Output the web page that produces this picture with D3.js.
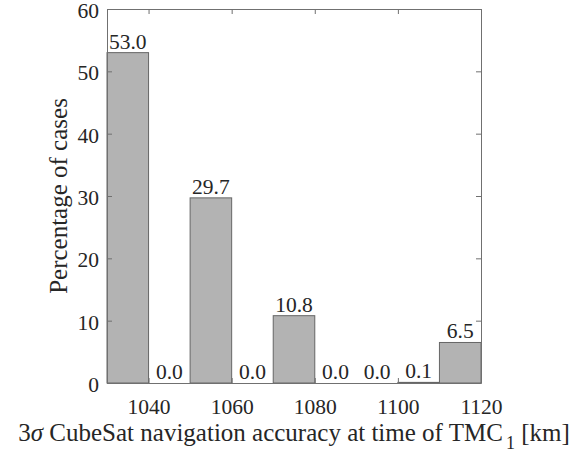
<!DOCTYPE html>
<html>
<head>
<meta charset="utf-8">
<script src="https://cdn.jsdelivr.net/npm/d3@7"></script>
</head>
<body style="margin:0;background:#fff">
<div id="root"></div>
<script>
// Histogram bins (left edges, km) and percentage of cases in each bin
const binStarts = [1030, 1040, 1050, 1060, 1070, 1080, 1090, 1100, 1110];
const binWidth = 10;
const percentages = [53.0, 0.0, 29.7, 0.0, 10.8, 0.0, 0.0, 0.1, 6.5];
const xTicks = [1040, 1060, 1080, 1100, 1120];
const yTicks = [0, 10, 20, 30, 40, 50, 60];

const FONT = "'Liberation Serif', 'Times New Roman', serif";
const W = 585, H = 455;
const svg = d3.select("#root").append("svg")
  .attr("width", W).attr("height", H)
  .style("display", "block")
  .attr("font-family", FONT);

const margin = { left: 107, top: 9, right: 104, bottom: 72 };
const iw = W - margin.left - margin.right;
const ih = H - margin.top - margin.bottom;

const x = d3.scaleLinear().domain([1030, 1120]).range([margin.left, margin.left + iw]);
const y = d3.scaleLinear().domain([0, 60]).range([margin.top + ih, margin.top]);

const axisColor = "#707070";
const textColor = "#262626";
const tickFont = 21.5;
const labelFont = 25;

const bins = binStarts.map((s, i) => ({ s, v: percentages[i] }));

// bars
svg.append("g").selectAll("rect")
  .data(bins)
  .join("rect")
  .attr("x", d => x(d.s))
  .attr("width", d => x(d.s + binWidth) - x(d.s))
  .attr("y", d => y(d.v))
  .attr("height", d => y(0) - y(d.v))
  .attr("fill", "#b3b3b3")
  .attr("stroke", "#666")
  .attr("stroke-width", 1);

// value labels above each bar
svg.append("g").selectAll("text")
  .data(bins)
  .join("text")
  .attr("x", d => x(d.s + binWidth / 2))
  .attr("y", d => y(d.v) - 4)
  .attr("text-anchor", "middle")
  .attr("font-family", FONT)
  .attr("font-size", tickFont)
  .attr("fill", textColor)
  .text(d => d.v.toFixed(1));

// axes with inward ticks, mirrored on top and right
function styleAxis(g) {
  g.attr("font-family", FONT).attr("font-size", tickFont);
  g.selectAll("path").attr("stroke", axisColor);
  g.selectAll("line").attr("stroke", axisColor);
  g.selectAll("text")
    .attr("font-family", FONT)
    .attr("font-size", tickFont)
    .attr("fill", textColor);
}

svg.append("g")
  .attr("transform", `translate(0,${y(0)})`)
  .call(d3.axisBottom(x).tickValues(xTicks).tickSize(-5).tickSizeOuter(0).tickPadding(16).tickFormat(d3.format("d")))
  .call(styleAxis);

svg.append("g")
  .attr("transform", `translate(0,${y(60)})`)
  .call(d3.axisTop(x).tickValues(xTicks).tickSize(-5).tickSizeOuter(0).tickFormat(""))
  .call(styleAxis);

svg.append("g")
  .attr("transform", `translate(${x(1030)},0)`)
  .call(d3.axisLeft(y).tickValues(yTicks).tickSize(-5).tickSizeOuter(0).tickPadding(8).tickFormat(d3.format("d")))
  .call(styleAxis)
  .call(g => g.selectAll("text").attr("dy", "0.4em"));

svg.append("g")
  .attr("transform", `translate(${x(1120)},0)`)
  .call(d3.axisRight(y).tickValues(yTicks).tickSize(-5).tickSizeOuter(0).tickFormat(""))
  .call(styleAxis);

// axis titles
const xl = svg.append("text")
  .attr("x", (x(1030) + x(1120)) / 2)
  .attr("y", 441)
  .attr("text-anchor", "middle")
  .attr("font-family", FONT)
  .attr("font-size", labelFont)
  .attr("fill", textColor);
xl.append("tspan").text("3");
xl.append("tspan").attr("font-style", "italic").text("σ");
xl.append("tspan").text(" CubeSat navigation accuracy at time of TMC");
xl.append("tspan").attr("dx", 3).attr("dy", 8).attr("font-size", 18).text("1");
xl.append("tspan").attr("dy", -8).text(" [km]");

svg.append("text")
  .attr("transform", `translate(67,${(y(0) + y(60)) / 2}) rotate(-90)`)
  .attr("text-anchor", "middle")
  .attr("font-family", FONT)
  .attr("font-size", labelFont)
  .attr("fill", textColor)
  .text("Percentage of cases");
</script>
</body>
</html>
